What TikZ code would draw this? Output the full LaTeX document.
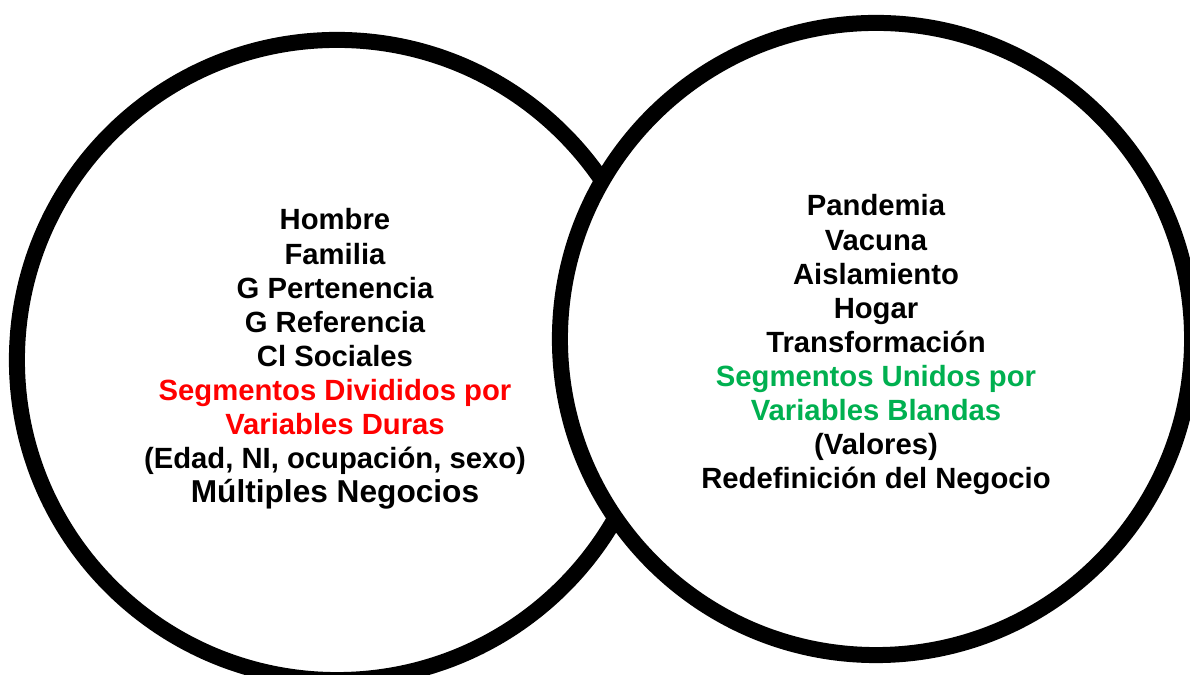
\documentclass[tikz,border=0pt]{standalone}
\usepackage{fontspec}
\setmainfont{Liberation Sans}
\usepackage{tikz}
\usetikzlibrary{positioning}
\definecolor{rojo}{RGB}{255,0,0}
\definecolor{verde}{RGB}{0,176,80}

\begin{document}
\begin{tikzpicture}[x=0.025cm,y=0.025cm]
\tikzstyle{every node}=[inner sep=0pt,outer sep=0pt]
\tikzstyle{ring}=[circle,draw=black,fill=white,line width=0.4cm]
\tikzstyle{txt}=[font=\bfseries\fontsize{20.8}{24}\selectfont,
text height=0.6cm,text depth=0.25cm,align=center]
\tikzstyle{big}=[txt,font=\bfseries\fontsize{22.5}{26}\selectfont]
\useasboundingbox (0,0) rectangle (1190,675);
\node[ring,minimum size=16cm] (izq) at (337,315) {};
\node[ring,minimum size=15.8cm] (der) at (876,336) {};
\node[txt] (h1) at (335,452) {Hombre};
\node[txt,below=0pt of h1] (h2) {Familia};
\node[txt,below=0pt of h2] (h3) {G Pertenencia};
\node[txt,below=0pt of h3] (h4) {G Referencia};
\node[txt,below=0pt of h4] (h5) {Cl Sociales};
\node[txt,text=rojo,below=0pt of h5] (h6) {Segmentos Divididos por};
\node[txt,text=rojo,below=0pt of h6] (h7) {Variables Duras};
\node[txt,below=0pt of h7] (h8) {(Edad, NI, ocupación, sexo)};
\node[big,below=0pt of h8] (h9) {Múltiples Negocios};
\node[txt] (p1) at (876,466) {Pandemia};
\node[txt,below=0pt of p1] (p2) {Vacuna};
\node[txt,below=0pt of p2] (p3) {Aislamiento};
\node[txt,below=0pt of p3] (p4) {Hogar};
\node[txt,below=0pt of p4] (p5) {Transformación};
\node[txt,text=verde,below=0pt of p5] (p6) {Segmentos Unidos por};
\node[txt,text=verde,below=0pt of p6] (p7) {Variables Blandas};
\node[txt,below=0pt of p7] (p8) {(Valores)};
\node[txt,below=0pt of p8] (p9) {Redefinición del Negocio};
\end{tikzpicture}
\end{document}
